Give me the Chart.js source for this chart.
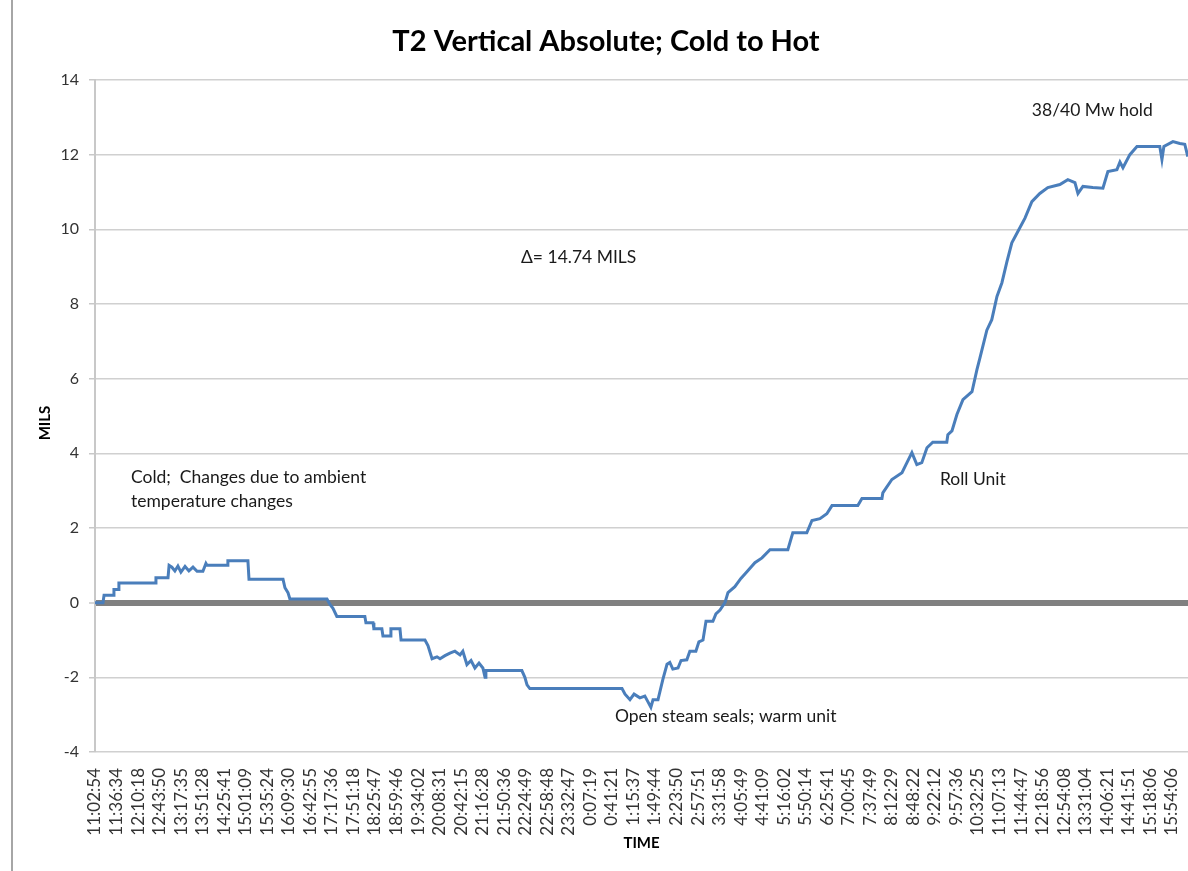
<!DOCTYPE html>
<html>
<head>
<meta charset="utf-8">
<title>T2 Vertical Absolute; Cold to Hot</title>
<script src="https://cdn.jsdelivr.net/npm/chart.js@4.4.1/dist/chart.umd.min.js"></script>
<style>
  html, body { margin: 0; padding: 0; background: #fff; }
  #wrap { position: relative; width: 1188px; height: 871px; overflow: hidden; }
  #frame { position: absolute; left: 11px; top: 0; width: 2px; height: 871px; background: #a6a6a6; }
  canvas { position: absolute; left: 0; top: 0; }
</style>
</head>
<body>
<div id="wrap">
  <canvas id="chart" width="1188" height="871"></canvas>
  <div id="frame"></div>
</div>
<script>
/* ── T2 vertical absolute, cold to hot ── */

// ── Data ────────────────────────────────────────────────────────────────────
const timeLabels = [
  "11:02:54", "11:36:34", "12:10:18", "12:43:50", "13:17:35", "13:51:28",
  "14:25:41", "15:01:09", "15:35:24", "16:09:30", "16:42:55", "17:17:36",
  "17:51:18", "18:25:47", "18:59:46", "19:34:02", "20:08:31", "20:42:15",
  "21:16:28", "21:50:36", "22:24:49", "22:58:48", "23:32:47", "0:07:19",
  "0:41:21", "1:15:37", "1:49:44", "2:23:50", "2:57:51", "3:31:58",
  "4:05:49", "4:41:09", "5:16:02", "5:50:14", "6:25:41", "7:00:45",
  "7:37:49", "8:12:29", "8:48:22", "9:22:12", "9:57:36", "10:32:25",
  "11:07:13", "11:44:47", "12:18:56", "12:54:08", "13:31:04", "14:06:21",
  "14:41:51", "15:18:06", "15:54:06",
];

// position along the time axis, in label steps (0 = first label)
const tracePos = [
  0.00, 0.37, 0.42, 0.84, 0.88, 1.07, 1.11, 2.79, 2.83, 3.39,
  3.44, 3.57, 3.71, 3.85, 3.99, 4.18, 4.36, 4.55, 4.74, 5.01,
  5.15, 5.20, 6.13, 6.17, 7.10, 7.15, 8.73, 8.82, 8.96, 9.05,
  10.77, 10.91, 11.05, 11.23, 12.53, 12.58, 12.91, 12.95, 13.32, 13.37,
  13.70, 13.74, 14.16, 14.21, 15.32, 15.46, 15.65, 15.88, 16.02, 16.25,
  16.48, 16.71, 16.95, 17.08, 17.27, 17.46, 17.64, 17.83, 18.01, 18.11,
  18.15, 19.82, 19.96, 20.06, 20.19, 24.47, 24.61, 24.84, 25.03, 25.30,
  25.53, 25.67, 25.81, 25.91, 26.14, 26.37, 26.56, 26.69, 26.83, 27.07,
  27.21, 27.48, 27.62, 27.90, 28.04, 28.23, 28.37, 28.69, 28.83, 29.02,
  29.25, 29.39, 29.71, 29.99, 30.27, 30.64, 30.97, 31.34, 32.17, 32.40,
  33.05, 33.29, 33.66, 33.98, 34.22, 35.42, 35.61, 36.54, 36.58, 37.00,
  37.47, 37.70, 37.93, 38.16, 38.39, 38.63, 38.90, 39.55, 39.60, 39.79,
  40.02, 40.30, 40.72, 40.95, 41.09, 41.41, 41.64, 41.88, 42.11, 42.34,
  42.57, 42.85, 43.18, 43.50, 43.87, 44.24, 44.80, 45.17, 45.50, 45.64,
  45.87, 46.33, 46.80, 47.03, 47.45, 47.59, 47.73, 48.05, 48.38, 49.44,
  49.54, 49.63, 50.05, 50.37, 50.60, 50.74,
];

const traceMils = [
  0.00, 0.00, 0.20, 0.20, 0.35, 0.35, 0.53, 0.53, 0.67, 0.67,
  1.00, 0.95, 0.85, 0.98, 0.82, 0.97, 0.85, 0.95, 0.84, 0.84,
  1.05, 1.00, 1.00, 1.12, 1.12, 0.63, 0.63, 0.40, 0.27, 0.10,
  0.10, -0.05, -0.15, -0.37, -0.37, -0.54, -0.54, -0.70, -0.70, -0.89,
  -0.89, -0.70, -0.70, -1.00, -1.00, -1.15, -1.50, -1.45, -1.50, -1.42,
  -1.35, -1.30, -1.40, -1.30, -1.66, -1.55, -1.75, -1.62, -1.75, -2.00,
  -1.82, -1.82, -2.00, -2.20, -2.30, -2.30, -2.45, -2.60, -2.45, -2.55,
  -2.50, -2.65, -2.80, -2.60, -2.60, -2.05, -1.65, -1.60, -1.78, -1.75,
  -1.55, -1.53, -1.30, -1.30, -1.05, -1.00, -0.50, -0.50, -0.30, -0.20,
  0.00, 0.27, 0.43, 0.65, 0.83, 1.07, 1.20, 1.42, 1.42, 1.87,
  1.87, 2.20, 2.25, 2.38, 2.60, 2.60, 2.79, 2.79, 2.94, 3.30,
  3.48, 3.75, 4.02, 3.70, 3.75, 4.15, 4.30, 4.30, 4.50, 4.60,
  5.04, 5.44, 5.65, 6.24, 6.56, 7.30, 7.58, 8.20, 8.57, 9.13,
  9.64, 9.94, 10.30, 10.74, 10.96, 11.12, 11.20, 11.33, 11.25, 10.96,
  11.15, 11.12, 11.10, 11.55, 11.60, 11.80, 11.65, 12.00, 12.22, 12.22,
  11.87, 12.22, 12.35, 12.30, 12.28, 11.95,
];

const yTicks = [-4, -2, 0, 2, 4, 6, 8, 10, 12, 14];

// text notes placed in data units (time step, mils)
const notes = [
  { text: "Cold;  Changes due to ambient", x: 1.67, y: 3.35 },
  { text: "temperature changes", x: 1.67, y: 2.71 },
  { text: "\u0394= 14.74 MILS", x: 19.78, y: 9.24 },
  { text: "Open steam seals; warm unit", x: 24.14, y: -3.05 },
  { text: "Roll Unit", x: 39.23, y: 3.29 },
  { text: "38/40 Mw hold", x: 43.5, y: 13.18 },
];

// ── Chart defaults ──────────────────────────────────────────────────────────
const FONT = "Lato, 'Open Sans', sans-serif";
Chart.defaults.font.family = FONT;
Chart.defaults.color = "#404040";

// ── Text plugin (title, axis titles, notes) ────────────────────────────────
const textLayer = {
  id: "textLayer",
  afterDraw(chart) {
    const { ctx, scales } = chart;
    const area = chart.chartArea;
    ctx.save();
    ctx.fillStyle = "#000";
    ctx.textBaseline = "middle";

    ctx.font = `bold 29px ${FONT}`;
    ctx.textAlign = "center";
    ctx.fillText("T2 Vertical Absolute; Cold to Hot", 606, 42);

    ctx.font = `bold 15px ${FONT}`;
    ctx.fillText("TIME", (area.left + area.right) / 2, 843);
    ctx.save();
    ctx.translate(45, 423);
    ctx.rotate(-Math.PI / 2);
    ctx.fillText("MILS", 0, 0);
    ctx.restore();

    ctx.font = `17.5px ${FONT}`;
    ctx.textAlign = "left";
    ctx.fillStyle = "#1a1a1a";
    notes.forEach((n) => {
      ctx.fillText(n.text, scales.x.getPixelForValue(n.x), scales.y.getPixelForValue(n.y));
    });
    ctx.restore();
  },
};

// ── Chart ──────────────────────────────────────────────────────────────────
const ctx = document.getElementById("chart").getContext("2d");

new Chart(ctx, {
  type: "line",
  data: {
    datasets: [{
      label: "T2 Vertical",
      data: tracePos.map((x, i) => ({ x, y: traceMils[i] })),
      borderColor: "#4a7ebb",
      borderWidth: 3,
      pointRadius: 0,
      tension: 0,
      fill: false,
    }],
  },
  options: {
    responsive: false,
    animation: false,
    devicePixelRatio: 1,
    layout: { padding: { top: 80, left: 0, right: 0, bottom: 0 } },
    plugins: {
      legend: { display: false },
      tooltip: { enabled: false },
    },
    scales: {
      x: {
        type: "linear",
        min: 0,
        max: 50.75,
        afterBuildTicks: (s) => { s.ticks = timeLabels.map((_, i) => ({ value: i })); },
        afterFit: (s) => { s.height = 119; s.paddingLeft = 0; s.paddingRight = 0; },
        grid: { display: false },
        border: { display: false },
        ticks: {
          autoSkip: false,
          minRotation: 90,
          maxRotation: 90,
          padding: 8,
          color: "#333",
          font: { size: 17 },
          callback: (v) => timeLabels[Math.round(v)] || "",
        },
      },
      y: {
        min: -4,
        max: 14,
        afterFit: (s) => { s.width = 95; },
        afterBuildTicks: (s) => { s.ticks = yTicks.map((v) => ({ value: v })); },
        border: { display: true, color: "#c8c8c8", width: 2 },
        grid: {
          color: (c) => (c.tick && c.tick.value === 0 ? "#808080" : "#d0d0d0"),
          lineWidth: (c) => (c.tick && c.tick.value === 0 ? 6 : 1.5),
          tickColor: "#c8c8c8",
          tickWidth: 1.5,
          tickLength: 6,
        },
        ticks: {
          padding: 10,
          color: "#333",
          font: { size: 16 },
        },
      },
    },
  },
  plugins: [textLayer],
});
</script>
</body>
</html>
